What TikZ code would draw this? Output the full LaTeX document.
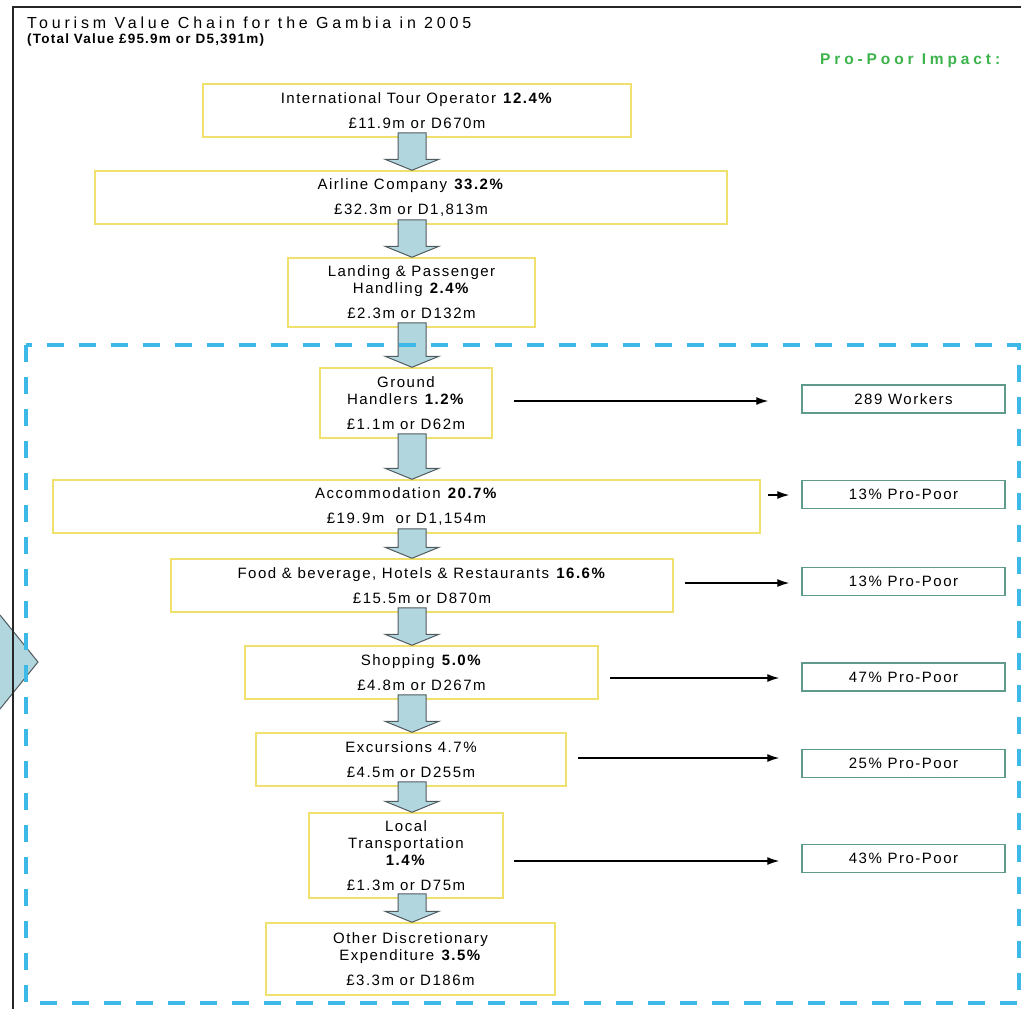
\documentclass[tikz,border=0pt]{standalone}
\usepackage{fontspec}
\setmainfont{Liberation Sans}
\newfontfamily\bxfont{Liberation Sans}[LetterSpace=10]
\newfontfamily\ttlfont{Liberation Sans}[LetterSpace=24]
\newfontfamily\subfont{Liberation Sans}[LetterSpace=9]
\newfontfamily\grfont{Liberation Sans}[LetterSpace=25]
\usetikzlibrary{calc,arrows.meta}
\definecolor{ybord}{RGB}{240,224,110}
\definecolor{tbord}{RGB}{95,155,140}
\definecolor{afill}{RGB}{178,214,222}
\definecolor{aline}{RGB}{80,90,95}
\definecolor{dblue}{RGB}{60,185,230}
\definecolor{pgreen}{RGB}{60,180,75}
\tikzset{
  vbox/.style={draw=ybord, line width=1.5bp, rectangle, inner sep=0pt, align=center,
     font=\bxfont\fontsize{15bp}{17bp}\selectfont},
  pbox/.style={draw=tbord, line width=1.5bp, rectangle, inner sep=0pt, align=center,
     minimum width=203bp, minimum height=28bp, font=\bxfont\fontsize{15bp}{17bp}\selectfont},
  blk/.style={fill=afill, draw=aline, line width=1bp, line join=miter},
  conn/.style={draw=black, line width=1.2bp, -{Latex[length=12bp,width=8bp]}},
}
\newcommand{\blkarrow}[2]{%
  \draw[blk] ($(#1.south -| ax)+(-14,-5)$) -- ($(#2.north -| ax)+(-14,-11)$)
    -- ($(#2.north -| ax)+(-27,-11)$) -- (#2.north -| ax)
    -- ($(#2.north -| ax)+(27,-11)$) -- ($(#2.north -| ax)+(14,-11)$)
    -- ($(#1.south -| ax)+(14,-5)$) -- cycle;}
\begin{document}
\begin{tikzpicture}[x=1bp,y=-1bp]
\useasboundingbox (0,0) rectangle (1021,1009);
\fill[white] (0,0) rectangle (1021,1009);
\coordinate (ax) at (412,0);
% left chevron
\fill[afill] (0,615) -- (38,662) -- (0,709) -- cycle;
\draw[aline, line width=1bp] (0,615) -- (38,662) -- (0,709);
% titles
\node[anchor=base west, inner sep=0pt, font=\ttlfont\fontsize{16bp}{18bp}\selectfont] (title) at (27,28) {Tourism Value Chain for the Gambia in 2005};
\node[anchor=base west, inner sep=0pt, font=\subfont\bfseries\fontsize{13.5bp}{15bp}\selectfont] (subtitle) at (27,43) {(Total Value £95.9m or D5,391m)};
\node[anchor=base west, inner sep=0pt, text=pgreen, font=\grfont\bfseries\fontsize{15.5bp}{16bp}\selectfont] (ppi) at (820,64) {Pro-Poor Impact:};
% value chain boxes
\node[vbox, minimum width=428bp, minimum height=53bp] (ito) at (417,110.5) {International Tour Operator \textbf{12.4\%}\\[8bp]£11.9m or D670m};
\node[vbox, minimum width=632bp, minimum height=53bp] (air) at (411,197.5) {Airline Company \textbf{33.2\%}\\[8bp]£32.3m or D1,813m};
\node[vbox, minimum width=247bp, minimum height=69bp] (land) at (411.5,292.5) {Landing \& Passenger\\Handling \textbf{2.4\%}\\[8bp]£2.3m or D132m};
\node[vbox, minimum width=172bp, minimum height=70bp] (gnd) at (406,403) {Ground\\Handlers \textbf{1.2\%}\\[8bp]£1.1m or D62m};
\node[vbox, minimum width=707bp, minimum height=53bp] (acc) at (406.5,506.5) {Accommodation \textbf{20.7\%}\\[8bp]£19.9m\ \ or D1,154m};
\node[vbox, minimum width=502bp, minimum height=53bp] (food) at (422,585.5) {Food \& beverage, Hotels \& Restaurants \textbf{16.6\%}\\[8bp]£15.5m or D870m};
\node[vbox, minimum width=353bp, minimum height=53bp] (shop) at (421.5,672.5) {Shopping \textbf{5.0\%}\\[8bp]£4.8m or D267m};
\node[vbox, minimum width=310bp, minimum height=53bp] (exc) at (411,759.5) {Excursions 4.7\%\\[8bp]£4.5m or D255m};
\node[vbox, minimum width=194bp, minimum height=85bp] (loc) at (406,855.5) {Local\\Transportation\\\textbf{1.4\%}\\[8bp]£1.3m or D75m};
\node[vbox, minimum width=289bp, minimum height=72bp] (oth) at (410.5,959) {Other Discretionary\\Expenditure \textbf{3.5\%}\\[8bp]£3.3m or D186m};
% block arrows
\blkarrow{ito}{air}
\blkarrow{air}{land}
\blkarrow{land}{gnd}
\blkarrow{gnd}{acc}
\blkarrow{acc}{food}
\blkarrow{food}{shop}
\blkarrow{shop}{exc}
\blkarrow{exc}{loc}
\blkarrow{loc}{oth}
% dashed region
\draw[dblue, line width=4bp, dash pattern=on 17bp off 15bp] (26,345) rectangle (1019,1003);
% frame lines
\draw[black!85, line width=1.5bp] (13,1009) -- (13,7) -- (1021,7);
% pro-poor boxes
\node[pbox] (p1) at (903.5,399) {289 Workers};
\node[pbox] (p2) at (903.5,494.5) {13\% Pro-Poor};
\node[pbox] (p3) at (903.5,581.5) {13\% Pro-Poor};
\node[pbox] (p4) at (903.5,677) {47\% Pro-Poor};
\node[pbox] (p5) at (903.5,763.5) {25\% Pro-Poor};
\node[pbox] (p6) at (903.5,858.5) {43\% Pro-Poor};
% connectors
\draw[conn] ($(gnd.east |- p1.west)+(21,2)$) -- ($(p1.west)+(-33,2)$);
\draw[conn] ($(acc.east |- p2.west)+(7,0.5)$) -- ($(p2.west)+(-12,0.5)$);
\draw[conn] ($(food.east |- p3.west)+(11,1.5)$) -- ($(p3.west)+(-12,1.5)$);
\draw[conn] ($(shop.east |- p4.west)+(11,1)$) -- ($(p4.west)+(-22,1)$);
\draw[conn] ($(exc.east |- p5.west)+(11,-5.5)$) -- ($(p5.west)+(-22,-5.5)$);
\draw[conn] ($(loc.east |- p6.west)+(10,2.5)$) -- ($(p6.west)+(-22,2.5)$);
\end{tikzpicture}
\end{document}
